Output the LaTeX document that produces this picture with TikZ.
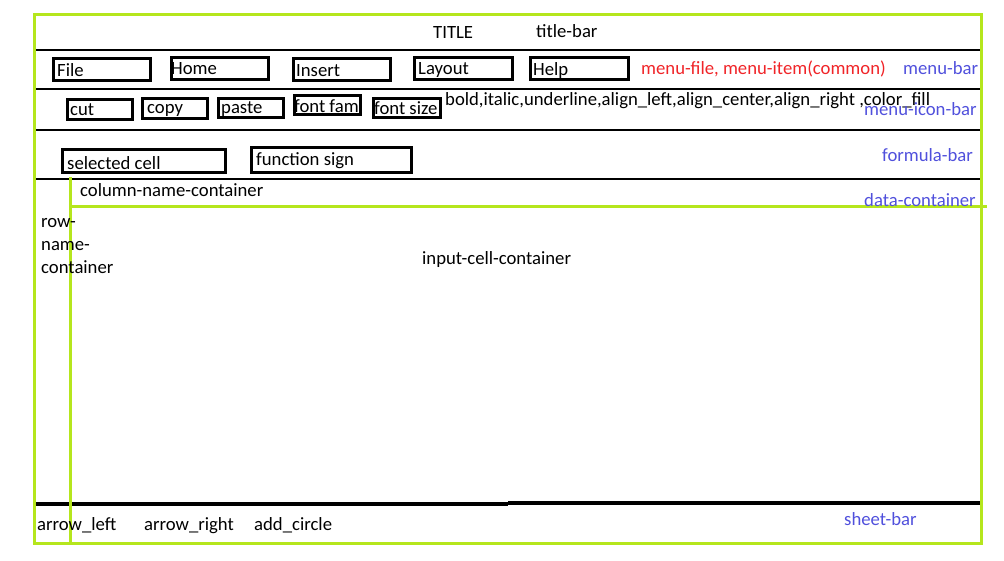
\documentclass[tikz,border=0pt]{standalone}
\usepackage{fontspec}
\setmainfont{Carlito}
\definecolor{lime}{RGB}{181,230,29}
\definecolor{lblred}{RGB}{240,36,40}
\definecolor{lblblue}{RGB}{80,80,220}
\tikzset{
  uiframe/.style={draw=lime, line width=3pt},
  sepline/.style={draw=black, line width=1.1pt},
  thickline/.style={draw=black, line width=3.5pt},
  uibox/.style={draw=black, line width=3pt, inner sep=0pt, anchor=north west},
  txt/.style={inner sep=0pt, anchor=base west, font=\fontsize{18.7pt}{22pt}\selectfont},
  redtxt/.style={txt, text=lblred},
  bluetxt/.style={txt, text=lblblue},
}
\newcommand{\uiboxdraw}[8]{%
  \node[uibox, minimum width={#4-#2-3}, minimum height={#5-#3-3}] (#1) at (#2,#3) {};
  \node[txt] (#1-t) at (#6,#7) {#8};
}
\begin{document}
\begin{tikzpicture}[x=1pt,y=-1pt]
\useasboundingbox (0,0) rectangle (1004,560);
% separators
\coordinate (s1l) at (33,50);  \coordinate (s1r) at (982,50);
\coordinate (s2l) at (33,89);  \coordinate (s2r) at (982,89);
\coordinate (s3l) at (33,130); \coordinate (s3r) at (982,130);
\coordinate (s4l) at (33,179); \coordinate (s4r) at (982,179);
\draw[sepline] (s1l) -- (s1r);
\draw[sepline] (s2l) -- (s2r);
\draw[sepline] (s3l) -- (s3r);
\draw[sepline] (s4l) -- (s4r);
% bottom thick line
\coordinate (b1) at (33,504); \coordinate (b2) at (508,504);
\coordinate (b3) at (508,503); \coordinate (b4) at (982,503);
\draw[thickline] (b1) -- (b2);
\draw[thickline] (b3) -- (b4);
% green frames
\coordinate (o1) at (34,14); \coordinate (o2) at (981,543);
\draw[uiframe] (o1) rectangle (o2);
\coordinate (gv1) at (70,177); \coordinate (gv2) at (70,544);
\draw[uiframe] (gv1) -- (gv2);
\coordinate (gh1) at (70,206); \coordinate (gh2) at (987,206);
\draw[uiframe] (gh1) -- (gh2);
% title bar
\node[txt] (title) at (433,38) {TITLE};
\node[txt] (titlebar) at (536,37) {title-bar};
% menu bar
\uiboxdraw{file}{52}{57}{152}{82}{57}{76}{File}
\uiboxdraw{home}{170}{56}{270}{81}{171}{74}{Home}
\uiboxdraw{insert}{292}{57}{392}{82}{296}{76}{Insert}
\uiboxdraw{layout}{413}{56}{514}{81}{418}{74}{Layout}
\uiboxdraw{help}{529}{56}{630}{81}{533}{75}{Help}
\node[redtxt] (menufile) at (641,74) {menu-file, menu-item(common)};
\node[bluetxt] (menubar) at (903,74) {menu-bar};
% icon bar
\uiboxdraw{cut}{66}{98}{134}{121}{70}{115}{cut}
\uiboxdraw{copy}{141}{97}{209}{120}{147}{113}{copy}
\uiboxdraw{paste}{217}{97}{285}{119}{221}{113}{paste}
\uiboxdraw{fontfam}{293}{94}{362}{116}{294}{112}{font fam}
\uiboxdraw{fontsize}{372}{97}{442}{119}{374}{114}{font size}
\node[txt] (icons) at (445,105) {bold,italic,underline,align\_left,align\_center,align\_right ,color\_fill};
\node[bluetxt] (iconbar) at (864,115) {menu-icon-bar};
% formula bar
\uiboxdraw{selcell}{61}{148}{227}{174}{67}{169}{selected cell}
\uiboxdraw{funcsign}{250}{146}{413}{174}{256}{165}{function sign}
\node[bluetxt] (formulabar) at (882,161) {formula-bar};
% data container
\node[txt] (colname) at (80,196) {column-name-container};
\node[bluetxt] (datacont) at (864,206) {data-container};
\node[txt] (row1) at (41,227) {row-};
\node[txt] (row2) at (41,250) {name-};
\node[txt] (row3) at (41,273) {container};
\node[txt] (inputcell) at (422,264) {input-cell-container};
% sheet bar
\node[txt] (arrl) at (37,530) {arrow\_left};
\node[txt] (arrr) at (144,530) {arrow\_right};
\node[txt] (addc) at (254,530) {add\_circle};
\node[bluetxt] (sheetbar) at (844,525) {sheet-bar};
\end{tikzpicture}
\end{document}
